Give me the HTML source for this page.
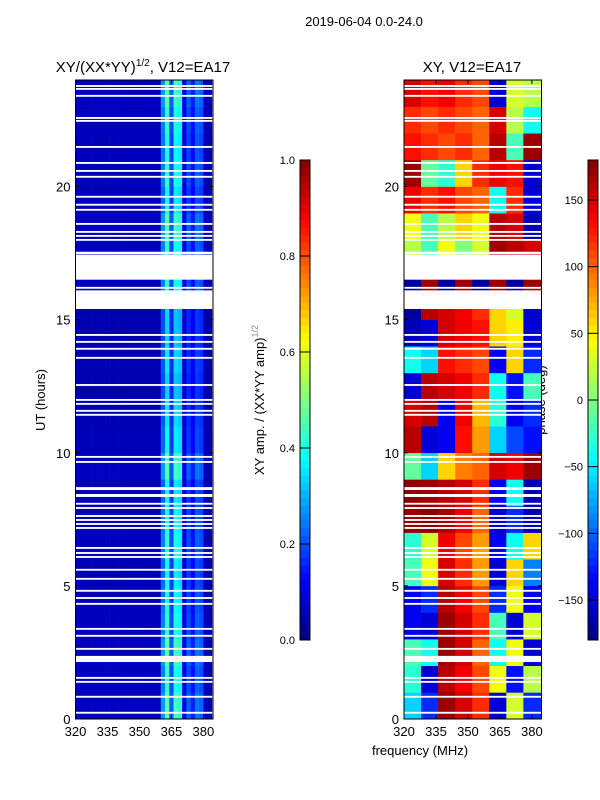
<!DOCTYPE html>
<html><head><meta charset="utf-8"><style>
body{margin:0;background:#fff;}
svg{display:block;font-family:"Liberation Sans","DejaVu Sans",sans-serif;}
</style></head><body>
<svg id="fig" width="600" height="800" viewBox="0 0 600 800">
<rect width="600" height="800" fill="#fff"/>
<text x="364" y="26" font-size="13" text-anchor="middle">2019-06-04 0.0-24.0</text>
<text x="143" y="72" font-size="15" text-anchor="middle">XY/(XX*YY)<tspan font-size="10" dy="-6">1/2</tspan><tspan dy="6">, V12=EA17</tspan></text>
<text x="472" y="72" font-size="15" text-anchor="middle">XY, V12=EA17</text>
<text x="420" y="755" font-size="13" text-anchor="middle">frequency (MHz)</text>
<text transform="translate(45,400) rotate(-90)" font-size="13" text-anchor="middle">UT (hours)</text>
<text transform="translate(264,400) rotate(-90)" font-size="13" text-anchor="middle">XY amp. / (XX*YY amp)<tspan font-size="9" dy="-6" fill="#888">1/2</tspan></text>
<text transform="translate(545,400) rotate(-90)" font-size="13" text-anchor="middle">phase (deg)</text>
<g id="left"></g>
<g id="right"></g>
<g id="axes"></g>
</svg>
<script>
// ---- data ----
const freqStart = 320, freqEnd = 384.5, hourStart = 0, hourEnd = 24;
const xTicks = [320, 335, 350, 365, 380];
const yTicks = [0, 5, 10, 15, 20];
const ampTicks = [0.0, 0.2, 0.4, 0.6, 0.8, 1.0];
const phaseTicks = [-150, -100, -50, 0, 50, 100, 150];
// amplitude profile per 2 MHz bin (320..384)
const ampProfile = [0.06,0.06,0.06,0.06,0.06,0.06,0.06,0.06,0.06,0.06,0.06,0.06,0.06,0.06,0.06,0.06,0.06,0.06,0.06,0.06,0.25,0.42,0.2,0.4,0.38,0.1,0.2,0.14,0.22,0.2,0.06,0.05];
// per-hour amplitude multiplier
const ampHourScale = [1.1,1.0,1.1,1.0,0.95,0.9,1.0,0.95,0.9,1.1,0.9,0.85,0.8,0.85,0.8,0.8,1.0,1.0,1.1,0.9,1.0,0.95,1.0,1.1];
// phase grid: 24 hour rows x 8 freq bands (8 MHz each), degrees
const phaseFreqBands = [320,328,336,344,352,360,368,376];
const phaseGrid = [
[-60,-120,170,150,120,-150,30,-120],
[-30,-150,160,140,110,40,-130,20],
[-20,-40,170,150,100,-40,40,-150],
[-140,-150,170,150,120,-20,-150,30],
[-140,-120,160,140,110,-120,40,-140],
[-20,40,150,120,80,-150,60,-90],
[-30,30,140,110,80,-140,-40,60],
[170,175,165,140,100,-150,-120,-160],
[175,170,160,150,120,-140,-40,-160],
[-10,-60,60,90,100,150,140,170],
[160,-150,-140,130,80,-60,-110,-130],
[150,160,-140,140,70,-30,-140,-120],
[-150,160,150,140,120,-40,-130,-20],
[-40,-60,130,120,110,-140,60,-120],
[-160,-150,150,140,130,60,50,-150],
[-170,160,150,140,120,60,30,-150],
[-170,170,-170,170,-170,170,-170,170],
[20,-20,40,0,30,170,160,150],
[40,-20,20,60,40,160,150,-160],
[140,120,130,110,100,-40,120,-150],
[170,-10,-30,60,120,140,130,-150],
[130,120,110,120,100,160,-20,170],
[120,110,120,110,100,150,20,-40],
[150,130,140,120,110,-150,30,20]];
// flagged (white) time ranges, hours
const gaps = [[23.74,23.81],[23.63,23.7],[23.37,23.44],[22.54,22.61],[22.43,22.5],[21.45,21.52],[20.85,20.92],[20.55,20.62],[20.33,20.4],[19.58,19.65],[19.28,19.35],[19.09,19.16],[18.56,18.63],[18.26,18.33],[18.11,18.18],[17.96,18.03],[17.45,17.55],[16.5,17.43],[16.16,16.23],[15.4,16.1],[14.39,14.46],[14.13,14.2],[13.87,13.94],[13.53,13.6],[12.51,12.58],[11.95,12.02],[11.8,11.87],[11.54,11.61],[11.39,11.46],[9.81,9.88],[9.62,9.69],[8.6,8.71],[8.34,8.45],[8.05,8.12],[7.89,7.96],[7.59,7.66],[7.44,7.51],[7.29,7.36],[7.14,7.21],[6.39,6.46],[6.2,6.27],[6.05,6.12],[5.57,5.64],[5.23,5.3],[4.78,4.85],[4.51,4.58],[4.29,4.36],[3.35,3.42],[3.09,3.16],[2.6,2.67],[2.14,2.37],[1.51,1.58],[1.36,1.43],[0.8,0.87],[0.2,0.27]];

// ---- helpers ----
const NS = "http://www.w3.org/2000/svg";
function jet(v){v=Math.max(0,Math.min(1,v));
 const r=Math.max(0,Math.min(1,1.5-Math.abs(4*v-3))),g=Math.max(0,Math.min(1,1.5-Math.abs(4*v-2))),b=Math.max(0,Math.min(1,1.5-Math.abs(4*v-1)));
 return `rgb(${Math.round(r*255)},${Math.round(g*255)},${Math.round(b*255)})`;}
function mk(tag,attrs,parent){const e=document.createElementNS(NS,tag);for(const k in attrs)e.setAttribute(k,attrs[k]);parent.appendChild(e);return e;}
const Y0=719, Y1=80;
const yScale = h => Y0 + (h-hourStart)/(hourEnd-hourStart)*(Y1-Y0);
function xScaleFor(L,R){return f => L + (f-freqStart)/(freqEnd-freqStart)*(R-L);}
const panels = [{L:75.5,R:213,g:document.getElementById('left')},{L:404,R:541.5,g:document.getElementById('right')}];

// left amplitude heatmap
{const p=panels[0], xs=xScaleFor(p.L,p.R);
 for(let h=0;h<24;h++){for(let i=0;i<ampProfile.length;i++){
  const f0=freqStart+2*i, f1=Math.min(freqEnd,f0+2);
  const r=mk('rect',{x:xs(f0),y:yScale(h+1),width:xs(f1)-xs(f0)+0.3,height:yScale(h)-yScale(h+1)+0.3,fill:jet(ampProfile[i]*ampHourScale[h])},p.g);
  
  
 }}}
// right phase heatmap
{const p=panels[1], xs=xScaleFor(p.L,p.R);
 for(let h=0;h<24;h++){for(let i=0;i<phaseFreqBands.length;i++){
  const f0=phaseFreqBands[i], f1=i+1<phaseFreqBands.length?phaseFreqBands[i+1]:freqEnd;
  const r=mk('rect',{x:xs(f0),y:yScale(h+1),width:xs(f1)-xs(f0)+0.3,height:yScale(h)-yScale(h+1)+0.3,fill:jet((phaseGrid[h][i]+180)/360)},p.g);
  
  
 }}}
// gaps + axes
const ax=document.getElementById('axes');
panels.forEach((p,pi)=>{
 const xs=xScaleFor(p.L,p.R);
 gaps.forEach(g=>{const r=mk('rect',{x:p.L,y:yScale(g[1]),width:p.R-p.L,height:Math.max(1.5,yScale(g[0])-yScale(g[1])),fill:'#fff'},p.g);
  
  });
 const fr=mk('rect',{x:p.L,y:Y1,width:p.R-p.L,height:Y0-Y1,fill:'none',stroke:'#000','stroke-width':1},ax);
 
 
 xTicks.forEach(t=>{const x=xs(t);
  mk('line',{x1:x,x2:x,y1:Y0,y2:Y0-4,stroke:'#000'},ax);mk('line',{x1:x,x2:x,y1:Y1,y2:Y1+4,stroke:'#000'},ax);
  const tx=mk('text',{x:x,y:Y0+17,'font-size':13,'text-anchor':'middle'},ax);tx.textContent=t;
  
  });
 yTicks.forEach(t=>{const y=yScale(t);
  mk('line',{x1:p.L,x2:p.L+4,y1:y,y2:y,stroke:'#000'},ax);mk('line',{x1:p.R,x2:p.R-4,y1:y,y2:y,stroke:'#000'},ax);
  const tx=mk('text',{x:p.L-5,y:y+5,'font-size':13,'text-anchor':'end'},ax);tx.textContent=t;
  
  });
});
// colorbars
function colorbar(x,ticks,lo,hi,name){
 const top=160,bot=640,n=64;
 for(let i=0;i<n;i++){const r=mk('rect',{x:x,y:bot-(i+1)*(bot-top)/n,width:10,height:(bot-top)/n+0.5,fill:jet((i+0.5)/n)},ax);
  
  }
 mk('rect',{x:x,y:top,width:10,height:bot-top,fill:'none',stroke:'#000'},ax);
 ticks.forEach(t=>{const y=bot-(t-lo)/(hi-lo)*(bot-top);
  mk('line',{x1:x,x2:x+10,y1:y,y2:y,stroke:'#000'},ax);
  const tx=mk('text',{x:x-5,y:y+4,'font-size':11,'text-anchor':'end'},ax);
  tx.textContent=(name==='amp-colorbar')?t.toFixed(1):(t<0?'\u2212'+(-t):t);
  
  });
}
colorbar(300,ampTicks,0,1,'amp-colorbar');
colorbar(588,phaseTicks,-180,180,'phase-colorbar');
</script>
</body></html>
